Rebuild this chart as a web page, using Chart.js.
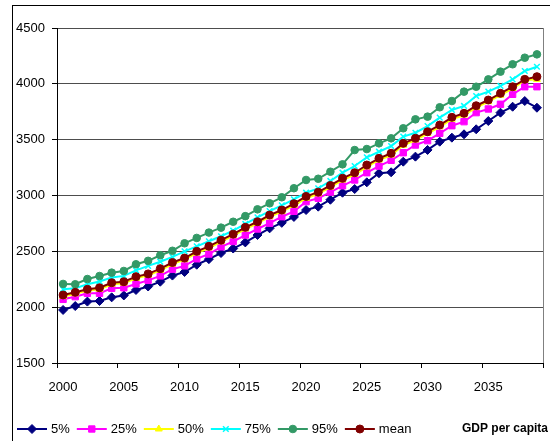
<!DOCTYPE html>
<html>
<head>
<meta charset="utf-8">
<script src="https://cdn.jsdelivr.net/npm/chart.js@4.4.1/dist/chart.umd.min.js"></script>
<style>
  html, body { margin: 0; padding: 0; background: #fff; overflow: hidden; }
  #wrap { position: relative; width: 550px; height: 441px; }
  #frame { position: absolute; left: 12px; top: 5px; width: 600px; height: 500px; border: 1px solid #000; }
  #chart { position: absolute; left: 0; top: 0; }
</style>
</head>
<body>
<div id="wrap">
  <div id="frame"></div>
  <canvas id="chart" width="550" height="441"></canvas>
</div>
<script>
// GDP per capita fan — percentiles by year
const years = [
  '2000', '2001', '2002', '2003', '2004', '2005', '2006', '2007', '2008', '2009',
  '2010', '2011', '2012', '2013', '2014', '2015', '2016', '2017', '2018', '2019',
  '2020', '2021', '2022', '2023', '2024', '2025', '2026', '2027', '2028', '2029',
  '2030', '2031', '2032', '2033', '2034', '2035', '2036', '2037', '2038', '2039',
];
const xTickLabels = ['2000', '2005', '2010', '2015', '2020', '2025', '2030', '2035'];
const yTicks = [1500, 2000, 2500, 3000, 3500, 4000, 4500];

const p5 = [
  1975, 2010, 2050, 2055, 2088, 2105, 2154, 2185, 2228, 2283,
  2315, 2380, 2430, 2485, 2525, 2580, 2646, 2706, 2755, 2808,
  2870, 2900, 2962, 3025, 3058, 3118, 3199, 3208, 3303, 3348,
  3408, 3482, 3518, 3548, 3593, 3667, 3742, 3795, 3846, 3786,
];
const p25 = [
  2070, 2094, 2124, 2124, 2169, 2174, 2208, 2240, 2280, 2340,
  2370, 2433, 2476, 2540, 2588, 2646, 2700, 2752, 2810, 2858,
  2945, 2975, 3030, 3087, 3139, 3204, 3263, 3315, 3383, 3452,
  3491, 3557, 3625, 3661, 3742, 3775, 3817, 3906, 3974, 3974,
];
const p50 = [
  2095, 2120, 2148, 2160, 2205, 2215, 2258, 2285, 2330, 2385,
  2425, 2485, 2530, 2585, 2640, 2700, 2750, 2810, 2855, 2912,
  2975, 3015, 3075, 3138, 3188, 3256, 3318, 3362, 3450, 3497,
  3555, 3615, 3683, 3720, 3787, 3840, 3898, 3958, 4032, 4040,
];
const p75 = [
  2160, 2170, 2205, 2230, 2265, 2280, 2330, 2370, 2407, 2450,
  2500, 2545, 2590, 2635, 2685, 2745, 2805, 2860, 2912, 2966,
  3025, 3064, 3130, 3204, 3264, 3342, 3392, 3443, 3527, 3562,
  3622, 3697, 3766, 3802, 3891, 3930, 3981, 4040, 4115, 4153,
];
const p95 = [
  2208, 2205, 2252, 2279, 2309, 2324, 2384, 2415, 2465, 2505,
  2572, 2620, 2668, 2712, 2765, 2815, 2876, 2930, 2984, 3065,
  3139, 3150, 3213, 3279, 3407, 3416, 3467, 3512, 3602, 3682,
  3706, 3790, 3846, 3930, 3974, 4040, 4109, 4175, 4234, 4264,
];
const meanValues = [
  2109, 2133, 2160, 2174, 2219, 2228, 2273, 2298, 2345, 2400,
  2440, 2500, 2545, 2600, 2654, 2715, 2765, 2825, 2870, 2927,
  2992, 3030, 3090, 3154, 3204, 3273, 3333, 3378, 3467, 3512,
  3571, 3631, 3700, 3736, 3804, 3855, 3915, 3974, 4040, 4064,
];

const seriesLabels = ['5%', '25%', '50%', '75%', '95%', 'mean'];
const seriesData = [p5, p25, p50, p75, p95, meanValues];
const colors = ['#000080', '#ff00ff', '#ffff00', '#00ffff', '#339966', '#800000'];
const markers = [
  { style: 'rectRot', r: 4.5, bw: 1 },
  { style: 'rect', r: 4.5, bw: 1 },
  { style: 'triangle', r: 4, bw: 1 },
  { style: 'crossRot', r: 4, bw: 1.5 },
  { style: 'circle', r: 3.8, bw: 1 },
  { style: 'circle', r: 4, bw: 1 },
];

const FONT = '"Liberation Sans", Arial, sans-serif';
Chart.defaults.font.family = FONT;
Chart.defaults.font.size = 13;
Chart.defaults.color = '#000';

// legend (line + marker) along the bottom, plus the right plot edge
const bottomLegend = {
  id: 'bottomLegend',
  afterDraw(chart) {
    const ctx = chart.ctx;
    const a = chart.chartArea;
    ctx.save();

    ctx.strokeStyle = '#808080';
    ctx.lineWidth = 1;
    ctx.beginPath();
    ctx.moveTo(Math.round(a.right) + 0.5, a.top);
    ctx.lineTo(Math.round(a.right) + 0.5, a.bottom);
    ctx.stroke();
    ctx.strokeStyle = '#000';
    ctx.beginPath();
    ctx.moveTo(Math.round(a.right) + 0.5, a.bottom);
    ctx.lineTo(Math.round(a.right) + 0.5, a.bottom + 5);
    ctx.stroke();

    const y = 429;
    let x = 17;
    ctx.font = '13px ' + FONT;
    ctx.textBaseline = 'middle';
    chart.data.datasets.forEach(ds => {
      ctx.strokeStyle = ds.borderColor;
      ctx.lineWidth = 2;
      ctx.beginPath();
      ctx.moveTo(x, y);
      ctx.lineTo(x + 30, y);
      ctx.stroke();
      ctx.fillStyle = ds.pointBackgroundColor;
      ctx.strokeStyle = ds.pointBorderColor;
      ctx.lineWidth = ds.pointBorderWidth;
      Chart.helpers.drawPoint(ctx, {
        pointStyle: ds.pointStyle, radius: ds.pointRadius, rotation: 0, borderWidth: ds.pointBorderWidth,
      }, x + 15, y);
      ctx.fillStyle = '#000';
      ctx.fillText(ds.label, x + 34, y);
      x += 34 + ctx.measureText(ds.label).width + 7;
    });
    ctx.font = 'bold 12px ' + FONT;
    ctx.fillText('GDP per capita', 462, y);
    ctx.restore();
  },
};

new Chart(document.getElementById('chart'), {
  type: 'line',
  data: {
    labels: years,
    datasets: seriesLabels.map((label, i) => ({
      label,
      data: seriesData[i],
      borderColor: colors[i],
      borderWidth: 2,
      pointStyle: markers[i].style,
      pointRadius: markers[i].r,
      pointBackgroundColor: colors[i],
      pointBorderColor: colors[i],
      pointBorderWidth: markers[i].bw,
      tension: 0,
      fill: false,
      order: seriesLabels.length - i,
    })),
  },
  options: {
    responsive: false,
    animation: false,
    devicePixelRatio: 1,
    layout: { padding: { left: 0, top: 28, right: 7, bottom: 0 } },
    plugins: { legend: { display: false }, tooltip: { enabled: false } },
    scales: {
      x: {
        offset: true,
        afterFit: s => { s.height = 78; },
        grid: {
          display: true,
          drawOnChartArea: false,
          offset: true,
          tickLength: 5,
          tickColor: c => (c.index % 5 === 0 ? '#000' : 'rgba(0,0,0,0)'),
        },
        border: { color: '#000', width: 1 },
        ticks: {
          autoSkip: false,
          maxRotation: 0,
          padding: 12,
          color: '#000',
          callback: (v, i) => (xTickLabels.includes(years[i]) ? years[i] : ''),
        },
      },
      y: {
        min: yTicks[0],
        max: yTicks[yTicks.length - 1],
        afterBuildTicks: s => { s.ticks = yTicks.map(v => ({ value: v })); },
        afterFit: s => { s.width = 57; },
        grid: { color: '#4d4d4d', tickColor: '#000', tickLength: 5, lineWidth: 1 },
        border: { color: '#000', width: 1 },
        ticks: { padding: 7, color: '#000', callback: v => String(v) },
      },
    },
  },
  plugins: [bottomLegend],
});
</script>
</body>
</html>
